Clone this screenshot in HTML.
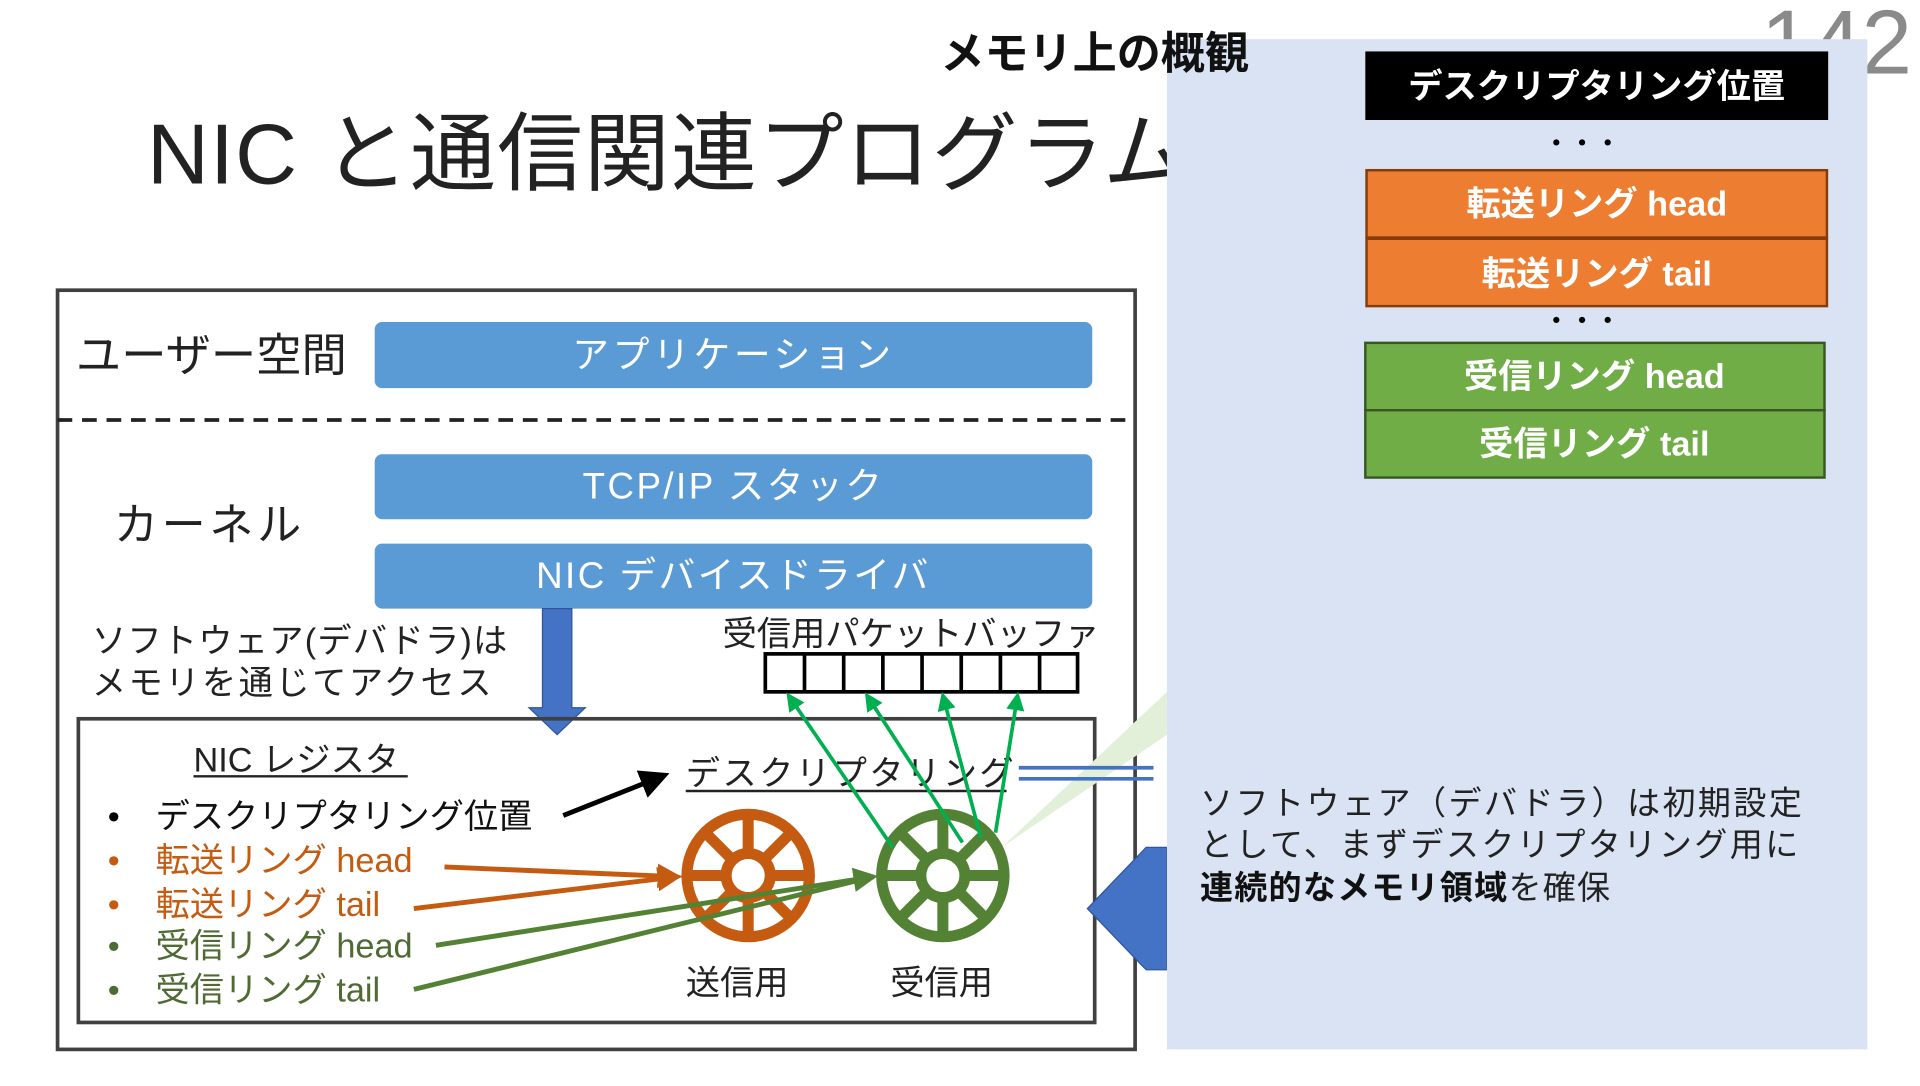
<!DOCTYPE html>
<html><head><meta charset="utf-8"><style>
html,body{margin:0;padding:0;background:#fff;overflow:hidden;width:1920px;height:1080px}
#c{width:1568px;height:882px;transform:scale(1.2245);transform-origin:0 0;position:absolute;left:0;top:0}
text{font-family:"Liberation Sans","Noto Sans CJK JP",sans-serif}
</style></head><body><div id="c">
<svg width="1568" height="882" viewBox="0 0 1568 882" xmlns="http://www.w3.org/2000/svg">
<defs>
<marker id="ak" markerWidth="6" markerHeight="6" refX="5" refY="3" orient="auto" markerUnits="strokeWidth"><path d="M0,0 L6,3 L0,6 Z" fill="#000"/></marker>
<marker id="ao" markerWidth="5" markerHeight="5" refX="4" refY="2.5" orient="auto" markerUnits="strokeWidth"><path d="M0,0 L5,2.5 L0,5 Z" fill="#c55a11"/></marker>
<marker id="ag" markerWidth="5" markerHeight="5" refX="4" refY="2.5" orient="auto" markerUnits="strokeWidth"><path d="M0,0 L5,2.5 L0,5 Z" fill="#548235"/></marker>
<marker id="ab" markerWidth="5" markerHeight="5" refX="4" refY="2.5" orient="auto" markerUnits="strokeWidth"><path d="M0,0 L5,2.5 L0,5 Z" fill="#00b050"/></marker>
</defs>
<text x="1438" y="60" font-size="74" fill="#8a8a8a">142</text>
<text x="120" y="150" font-size="70" fill="#222" letter-spacing="1">NIC と通信関連プログラム</text>

<rect x="47" y="237" width="880" height="620" fill="none" stroke="#404040" stroke-width="3"/>
<text x="62" y="303" font-size="37" fill="#222">ユーザー空間</text>
<rect x="306" y="263" width="586" height="54" rx="6" fill="#5b9bd5"/>
<text x="599" y="300" font-size="30" fill="#fff" text-anchor="middle" letter-spacing="3">アプリケーション</text>
<line x1="47" y1="343" x2="927" y2="343" stroke="#222" stroke-width="3" stroke-dasharray="12,8"/>
<text x="93" y="441" font-size="36" fill="#222" letter-spacing="3">カーネル</text>
<rect x="306" y="371" width="586" height="53" rx="6" fill="#5b9bd5"/>
<text x="599" y="407" font-size="30" fill="#fff" text-anchor="middle" letter-spacing="2">TCP/IP スタック</text>
<rect x="306" y="444" width="586" height="53" rx="6" fill="#5b9bd5"/>
<text x="599" y="480" font-size="30" fill="#fff" text-anchor="middle" letter-spacing="2">NIC デバイスドライバ</text>
<text x="75" y="533" font-size="28" fill="#222" letter-spacing="1">ソフトウェア(デバドラ)は</text>
<text x="75" y="567" font-size="28" fill="#222" letter-spacing="2">メモリを通じてアクセス</text>
<path d="M443,497 L467,497 L467,578 L478,578 L455,600 L432,578 L443,578 Z" fill="#4472c4" stroke="#2f5597" stroke-width="1"/>
<text x="590" y="527" font-size="28" fill="#222">受信用パケットバッファ</text>
<g fill="none" stroke="#000" stroke-width="3">
<rect x="625" y="534" width="255" height="31"/>
<line x1="657" y1="534" x2="657" y2="565"/><line x1="689" y1="534" x2="689" y2="565"/><line x1="721" y1="534" x2="721" y2="565"/><line x1="753" y1="534" x2="753" y2="565"/><line x1="785" y1="534" x2="785" y2="565"/><line x1="817" y1="534" x2="817" y2="565"/><line x1="849" y1="534" x2="849" y2="565"/>
</g>
<rect x="64" y="587" width="830" height="248" fill="none" stroke="#404040" stroke-width="3"/>
<text x="158" y="630" font-size="28" fill="#222">NIC レジスタ</text>
<line x1="158" y1="634" x2="333" y2="634" stroke="#222" stroke-width="2"/>
<g font-size="28">
<text x="88" y="676" fill="#000">•</text><text x="127" y="676" fill="#111">デスクリプタリング位置</text>
<text x="88" y="712" fill="#c55a11">•</text><text x="127" y="712" fill="#c55a11">転送リング head</text>
<text x="88" y="748" fill="#c55a11">•</text><text x="127" y="748" fill="#c55a11">転送リング tail</text>
<text x="88" y="782" fill="#4f6b33">•</text><text x="127" y="782" fill="#4f6b33">受信リング head</text>
<text x="88" y="818" fill="#4f6b33">•</text><text x="127" y="818" fill="#4f6b33">受信リング tail</text>
</g>
<text x="560" y="641" font-size="28" fill="#222" letter-spacing="2">デスクリプタリング</text>
<line x1="560" y1="646" x2="822" y2="646" stroke="#222" stroke-width="2"/>
<line x1="460" y1="666" x2="543" y2="633" stroke="#000" stroke-width="4" marker-end="url(#ak)"/>
<text x="560" y="812" font-size="28" fill="#222">送信用</text>
<text x="727" y="812" font-size="28" fill="#222">受信用</text>

<polygon points="818,692 953,565 953,600" fill="#e2f0d9"/>

<g stroke="#c55a11" stroke-width="9" fill="none">
<circle cx="611" cy="715" r="50"/><circle cx="611" cy="715" r="18"/>
<line x1="561" y1="715" x2="593" y2="715"/><line x1="629" y1="715" x2="661" y2="715"/>
<line x1="611" y1="665" x2="611" y2="697"/><line x1="611" y1="733" x2="611" y2="765"/>
<line x1="576" y1="680" x2="598" y2="702"/><line x1="624" y1="728" x2="646" y2="750"/>
<line x1="646" y1="680" x2="624" y2="702"/><line x1="598" y1="728" x2="576" y2="750"/>
</g>
<g stroke="#548235" stroke-width="9" fill="none">
<circle cx="770" cy="715" r="50"/><circle cx="770" cy="715" r="18"/>
<line x1="720" y1="715" x2="752" y2="715"/><line x1="788" y1="715" x2="820" y2="715"/>
<line x1="770" y1="665" x2="770" y2="697"/><line x1="770" y1="733" x2="770" y2="765"/>
<line x1="735" y1="680" x2="757" y2="702"/><line x1="783" y1="728" x2="805" y2="750"/>
<line x1="805" y1="680" x2="783" y2="702"/><line x1="757" y1="728" x2="735" y2="750"/>
</g>
<line x1="363" y1="708" x2="553" y2="716" stroke="#c55a11" stroke-width="4" marker-end="url(#ao)"/>
<line x1="338" y1="742" x2="553" y2="716" stroke="#c55a11" stroke-width="4" marker-end="url(#ao)"/>
<line x1="356" y1="772" x2="713" y2="716" stroke="#548235" stroke-width="4" marker-end="url(#ag)"/>
<line x1="338" y1="808" x2="713" y2="716" stroke="#548235" stroke-width="4"/>
<g stroke="#00b050" stroke-width="3">
<line x1="729" y1="692" x2="644" y2="568" marker-end="url(#ab)"/>
<line x1="786" y1="688" x2="708" y2="568" marker-end="url(#ab)"/>
<line x1="801" y1="684" x2="770" y2="568" marker-end="url(#ab)"/>
<line x1="813" y1="680" x2="831" y2="568" marker-end="url(#ab)"/>
</g>
<line x1="832" y1="627" x2="942" y2="627" stroke="#4472c4" stroke-width="3"/>
<line x1="832" y1="636" x2="942" y2="636" stroke="#4472c4" stroke-width="3"/>
<path d="M953,692 L936,692 L888,742 L936,792 L953,792 Z" fill="#4472c4" stroke="#2f5597" stroke-width="1"/>

<rect x="953" y="32" width="572" height="825" fill="#dae3f3"/>
<rect x="1115" y="42" width="378" height="56" fill="#000"/>
<text x="1304" y="80" font-size="28" font-weight="bold" fill="#fff" text-anchor="middle">デスクリプタリング位置</text>
<text x="1296" y="126" font-size="26" font-weight="bold" fill="#000" text-anchor="middle" letter-spacing="8">･･･</text>
<rect x="1116" y="139" width="376" height="55" fill="#ed7d31" stroke="#843c0c" stroke-width="2"/>
<rect x="1116" y="195" width="376" height="55" fill="#ed7d31" stroke="#843c0c" stroke-width="2"/>
<text x="1304" y="176" font-size="28" font-weight="bold" fill="#fff" text-anchor="middle">転送リング head</text>
<text x="1304" y="233" font-size="28" font-weight="bold" fill="#fff" text-anchor="middle">転送リング tail</text>
<text x="1296" y="271" font-size="26" font-weight="bold" fill="#000" text-anchor="middle" letter-spacing="8">･･･</text>
<rect x="1115" y="280" width="375" height="55" fill="#70ad47" stroke="#385723" stroke-width="2"/>
<rect x="1115" y="335" width="375" height="55" fill="#70ad47" stroke="#385723" stroke-width="2"/>
<text x="1302" y="317" font-size="28" font-weight="bold" fill="#fff" text-anchor="middle">受信リング head</text>
<text x="1302" y="372" font-size="28" font-weight="bold" fill="#fff" text-anchor="middle">受信リング tail</text>
<g font-size="27" fill="#222">
<text x="980" y="665" letter-spacing="2">ソフトウェア（デバドラ）は初期設定</text>
<text x="980" y="699" letter-spacing="2">として、まずデスクリプタリング用に</text>
<text x="980" y="734" letter-spacing="1"><tspan font-weight="bold" fill="#111">連続的なメモリ領域</tspan>を確保</text>
</g>
<text x="768" y="56" font-size="36" font-weight="bold" fill="#111">メモリ上の概観</text>
</svg>
</div></body></html>
